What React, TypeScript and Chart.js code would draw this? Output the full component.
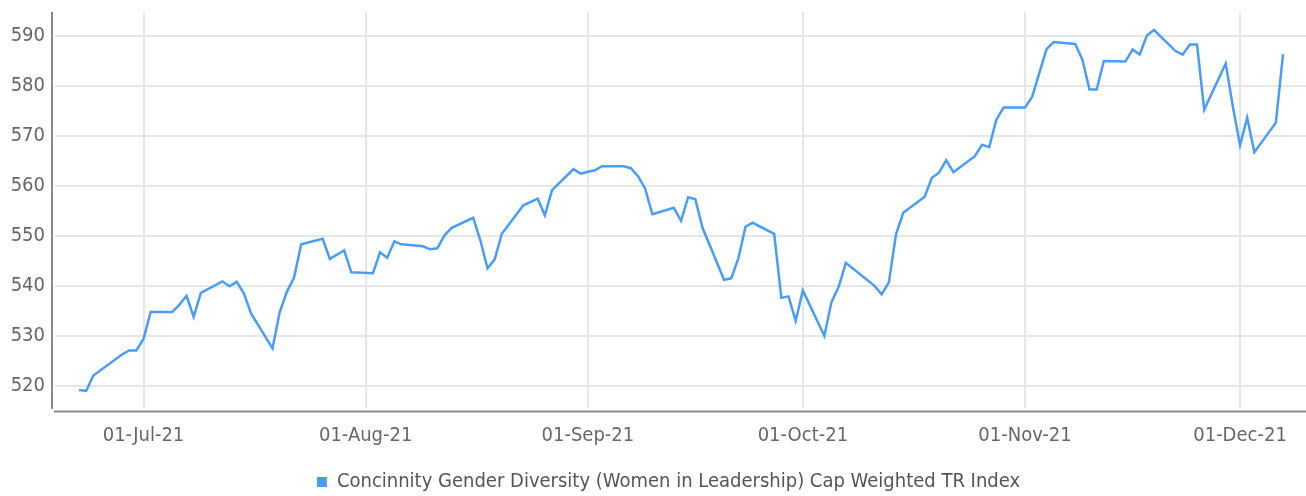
import React, { useEffect, useRef } from 'react';
import { Chart, registerables } from 'chart.js';
Chart.register(...registerables);

// ---- data ----
const seriesLabel = 'Concinnity Gender Diversity (Women in Leadership) Cap Weighted TR Index';

const dates = [
  '2021-06-22', '2021-06-23', '2021-06-24', '2021-06-28', '2021-06-29', '2021-06-30',
  '2021-07-01', '2021-07-02', '2021-07-05', '2021-07-06', '2021-07-07', '2021-07-08', '2021-07-09',
  '2021-07-12', '2021-07-13', '2021-07-14', '2021-07-15', '2021-07-16',
  '2021-07-19', '2021-07-20', '2021-07-21', '2021-07-22', '2021-07-23',
  '2021-07-26', '2021-07-27', '2021-07-29', '2021-07-30',
  '2021-08-02', '2021-08-03', '2021-08-04', '2021-08-05', '2021-08-06',
  '2021-08-09', '2021-08-10', '2021-08-11', '2021-08-12', '2021-08-13',
  '2021-08-16', '2021-08-17', '2021-08-18', '2021-08-19', '2021-08-20',
  '2021-08-23', '2021-08-25', '2021-08-26', '2021-08-27',
  '2021-08-30', '2021-08-31', '2021-09-01', '2021-09-02', '2021-09-03',
  '2021-09-06', '2021-09-07', '2021-09-08', '2021-09-09', '2021-09-10',
  '2021-09-13', '2021-09-14', '2021-09-15', '2021-09-16', '2021-09-17',
  '2021-09-20', '2021-09-21', '2021-09-22', '2021-09-23', '2021-09-24',
  '2021-09-27', '2021-09-28', '2021-09-29', '2021-09-30', '2021-10-01',
  '2021-10-04', '2021-10-05', '2021-10-06', '2021-10-07',
  '2021-10-11', '2021-10-12', '2021-10-13', '2021-10-14', '2021-10-15',
  '2021-10-18', '2021-10-19', '2021-10-20', '2021-10-21', '2021-10-22',
  '2021-10-25', '2021-10-26', '2021-10-27', '2021-10-28', '2021-10-29',
  '2021-11-01', '2021-11-02', '2021-11-04', '2021-11-05',
  '2021-11-08', '2021-11-09', '2021-11-10', '2021-11-11', '2021-11-12',
  '2021-11-15', '2021-11-16', '2021-11-17', '2021-11-18', '2021-11-19',
  '2021-11-22', '2021-11-23', '2021-11-24', '2021-11-25', '2021-11-26',
  '2021-11-29', '2021-11-30', '2021-12-01', '2021-12-02', '2021-12-03',
  '2021-12-06', '2021-12-07',
];

const values = [
  519.2, 519.0, 522.1, 526.3, 527.1, 527.1,
  529.4, 534.8, 534.8, 536.2, 538.0, 533.8, 538.6,
  540.9, 539.9, 540.8, 538.5, 534.5,
  527.5, 534.7, 538.8, 541.6, 548.3,
  549.4, 545.4, 547.1, 542.7,
  542.5, 546.7, 545.6, 548.9, 548.3,
  547.9, 547.3, 547.5, 550.1, 551.6,
  553.6, 549.1, 543.5, 545.3, 550.4,
  556.1, 557.4, 554.1, 559.1,
  563.3, 562.4, 562.8, 563.1, 563.9,
  563.9, 563.5, 561.9, 559.4, 554.3,
  555.6, 553.0, 557.7, 557.3, 551.6,
  541.2, 541.5, 545.5, 551.8, 552.6,
  550.4, 537.6, 537.9, 533.0, 539.1,
  530.0, 536.8, 539.8, 544.6,
  540.0, 538.3, 540.7, 550.3, 554.6,
  557.8, 561.6, 562.6, 565.1, 562.7,
  565.9, 568.2, 567.7, 573.2, 575.6,
  575.6, 577.8, 587.3, 588.7,
  588.3, 585.2, 579.2, 579.2, 584.9,
  584.8, 587.2, 586.2, 590.0, 591.1,
  586.9, 586.2, 588.2, 588.2, 575.2,
  584.4, 575.8, 568.1, 573.6, 566.7,
  572.6, 586.3,
];

const yTicks = [520, 530, 540, 550, 560, 570, 580, 590];
const xTickDates = ['2021-07-01', '2021-08-01', '2021-09-01', '2021-10-01', '2021-11-01', '2021-12-01'];
const monthNames = ['Jan', 'Feb', 'Mar', 'Apr', 'May', 'Jun', 'Jul', 'Aug', 'Sep', 'Oct', 'Nov', 'Dec'];

// axis range
const yMin = 515.6;
const yMax = 594.7;
const xStartOffsetDays = -12.35; // relative to 2021-07-01
const xEndOffsetDays = 166.53;

const DAY = 86400000;
const toDay = (s: string) => {
  const [y, m, d] = s.split('-').map(Number);
  return Date.UTC(y, m - 1, d) / DAY;
};
const fmtDay = (v: number) => {
  const dt = new Date(Math.round(v) * DAY);
  const dd = String(dt.getUTCDate()).padStart(2, '0');
  const yy = String(dt.getUTCFullYear()).slice(2);
  return `${dd}-${monthNames[dt.getUTCMonth()]}-${yy}`;
};

const FONT = "'DejaVu Sans Condensed', 'Liberation Sans Narrow', Roboto, sans-serif";
const FONT_SIZE = 20;
const LINE_COLOR = '#4b9cf5';
const GRID = '#e6e6e6';
const AXIS = '#8a8a8a';
const TEXT = '#666666';

const axisLines = {
  id: 'axisLines',
  beforeDatasetsDraw(chart: any) {
    const { ctx, chartArea: a } = chart;
    ctx.save();
    ctx.strokeStyle = AXIS;
    ctx.lineWidth = 2;
    ctx.beginPath();
    ctx.moveTo(a.left - 3, a.top);
    ctx.lineTo(a.left - 3, a.bottom + 1);
    ctx.stroke();
    ctx.beginPath();
    ctx.moveTo(a.left - 1, a.bottom + 3.5);
    ctx.lineTo(a.right, a.bottom + 3.5);
    ctx.stroke();
    ctx.restore();
  },
};

export default function App() {
  const ref = useRef<HTMLCanvasElement>(null);
  useEffect(() => {
    document.body.style.margin = '0';
    document.body.style.overflow = 'hidden';
    const jul1 = toDay('2021-07-01');
    const points = dates.map((d, i) => ({ x: toDay(d), y: values[i] }));
    const chart = new Chart(ref.current!, {
      type: 'line',
      data: {
        datasets: [
          {
            label: seriesLabel,
            data: points,
            borderColor: LINE_COLOR,
            backgroundColor: LINE_COLOR,
            borderWidth: 2.5,
            pointRadius: 0,
            tension: 0,
            fill: false,
          },
        ],
      },
      options: {
        responsive: false,
        animation: false,
        layout: { padding: { top: 12, left: 0, right: 0, bottom: 0 } },
        plugins: {
          tooltip: { enabled: false },
          legend: {
            position: 'bottom',
            maxHeight: 26,
            labels: {
              font: { family: FONT, size: FONT_SIZE },
              color: '#555555',
              boxWidth: 10,
              boxHeight: 10,
              padding: 2,
              generateLabels: (c: any) =>
                Chart.defaults.plugins.legend.labels.generateLabels(c).map((l: any) => ({ ...l, lineWidth: 0 })),
            },
          },
        },
        scales: {
          x: {
            type: 'linear',
            min: jul1 + xStartOffsetDays,
            max: jul1 + xEndOffsetDays,
            afterBuildTicks: (s: any) => {
              s.ticks = xTickDates.map((d) => ({ value: toDay(d) }));
            },
            afterFit: (s: any) => {
              s.height = 62;
              s.paddingLeft = 0;
              s.paddingRight = 0;
            },
            ticks: {
              callback: (v: any) => fmtDay(Number(v)),
              font: { family: FONT, size: FONT_SIZE },
              color: TEXT,
              padding: 16,
              maxRotation: 0,
              autoSkip: false,
            },
            grid: { color: GRID, lineWidth: 2, drawTicks: false },
            border: { display: false },
          },
          y: {
            type: 'linear',
            min: yMin,
            max: yMax,
            afterBuildTicks: (s: any) => {
              s.ticks = yTicks.map((v) => ({ value: v }));
            },
            afterFit: (s: any) => {
              s.width = 55;
              s.paddingTop = 0;
              s.paddingBottom = 0;
            },
            ticks: {
              callback: (v: any) => String(v),
              font: { family: FONT, size: FONT_SIZE },
              color: TEXT,
              padding: 10,
            },
            grid: { color: GRID, lineWidth: 2, drawTicks: false },
            border: { display: false },
          },
        },
      },
      plugins: [axisLines],
    });
    return () => chart.destroy();
  }, []);
  return (
    <div style={{ position: 'fixed', left: 0, top: 0, width: 1337, height: 496 }}>
      <canvas ref={ref} width={1337} height={496} />
    </div>
  );
}
